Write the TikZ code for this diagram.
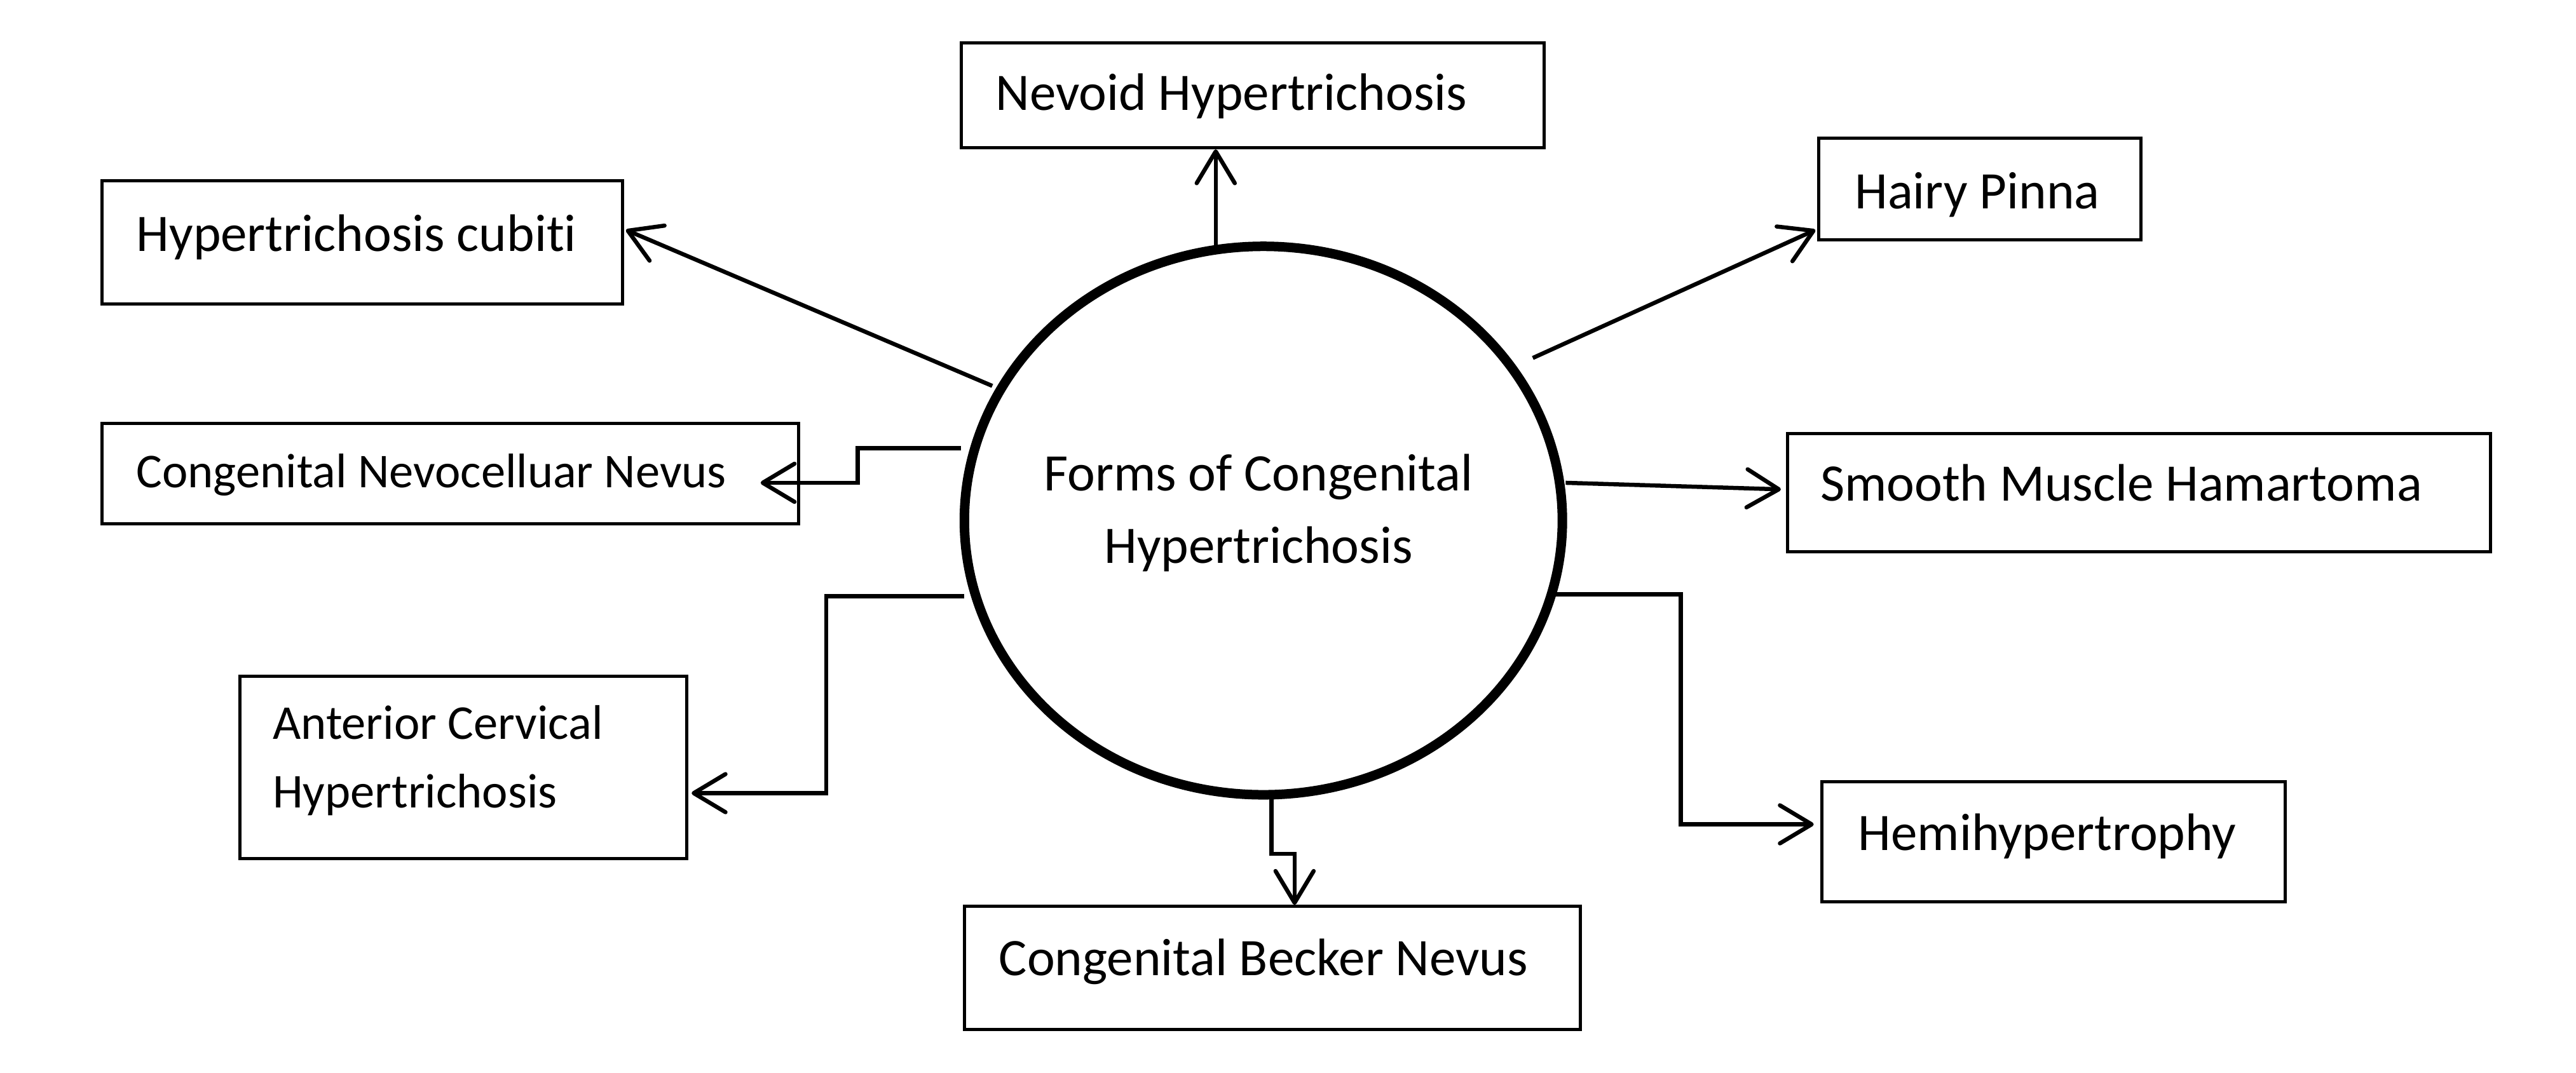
\documentclass[tikz,border=0pt]{standalone}
\usepackage{fontspec}
\setmainfont{Carlito}[Ligatures={NoCommon}]
\usetikzlibrary{arrows.meta,shapes.geometric,fit}
\begin{document}
\begin{tikzpicture}[x=2.585pt,y=-2.585pt,
  box/.style={draw, line width=5pt, inner sep=0pt},
  lbl/.style={anchor=base west, inner sep=0pt, font=\fontsize{83}{114}\selectfont},
  lbls/.style={anchor=base west, inner sep=0pt, font=\fontsize{76.5}{108}\selectfont},
  conn/.style={line width=6.5pt, line join=miter, -{Straight Barb[length=50pt,width=60pt,round]}},
]
\useasboundingbox[fill=white] (0,0) rectangle (1568,653.4);

% hub
\node[draw, ellipse, line width=15pt, minimum width=364*2.585pt, minimum height=334*2.585pt, inner sep=0pt] (hub) at (769,317) {};
\node[anchor=base, inner sep=0pt, font=\fontsize{83}{114}\selectfont] (hubt1) at (766,299) {Forms of Congenital};
\node[anchor=base, inner sep=0pt, font=\fontsize{83}{114}\selectfont] (hubt2) at (766,343) {Hypertrichosis};

% boxes
\node[box, fit={(585,26) (940,90)}] (nevoid) {};
\node[lbl] (nevoidt) at (606,67) {Nevoid Hypertrichosis};

\node[box, fit={(1107,84) (1303,146)}] (pinna) {};
\node[lbl] (pinnat) at (1129,127) {Hairy Pinna};

\node[box, fit={(62,110) (379,185)}] (cubiti) {};
\node[lbl] (cubitit) at (83,153) {Hypertrichosis cubiti};

\node[box, fit={(62,258) (486,319)}] (nevo) {};
\node[lbls] (nevot) at (83,297) {Congenital Nevocelluar Nevus};

\node[box, fit={(1088,264) (1516,336)}] (smooth) {};
\node[lbl] (smootht) at (1108,305) {Smooth Muscle Hamartoma};

\node[box, fit={(146,412) (418,523)}] (ant) {};
\node[lbls] (antt1) at (166,450) {Anterior Cervical};
\node[lbls] (antt2) at (166,492) {Hypertrichosis};

\node[box, fit={(1109,476) (1391,549)}] (hemi) {};
\node[lbl] (hemit) at (1131,518) {Hemihypertrophy};

\node[box, fit={(587,552) (962,627)}] (becker) {};
\node[lbl] (beckert) at (608,594) {Congenital Becker Nevus};

% connector start points on the hub
\coordinate (s1) at (740,151);
\coordinate (s2) at (933,218);
\coordinate (e2) at (1105,140);
\coordinate (s3) at (604,235);
\coordinate (e3) at (381,140);
\coordinate (s4) at (585,273);
\coordinate (s5) at (953,294);
\coordinate (e5) at (1084,298);
\coordinate (s6) at (587,363);
\coordinate (s7) at (945,362);
\coordinate (s8) at (774,484);
\coordinate (j8) at (788,520);

\draw[conn] (s1) -- (s1 |- nevoid.south);
\draw[conn] (s2) -- (e2);
\draw[conn] (s3) -- (e3);
\draw[conn] (s4) -- (522,273) -- (522,294) -- (463,294);
\draw[conn] (s5) -- (e5);
\draw[conn] (s6) -- (503,363) -- (503,483) -- (421,483);
\draw[conn] (s7) -- (1023,362) -- (1023,502) -- (1104,502);
\draw[conn] (s8) -- (774,520) -- (j8) -- (j8 |- becker.north);
\end{tikzpicture}
\end{document}
